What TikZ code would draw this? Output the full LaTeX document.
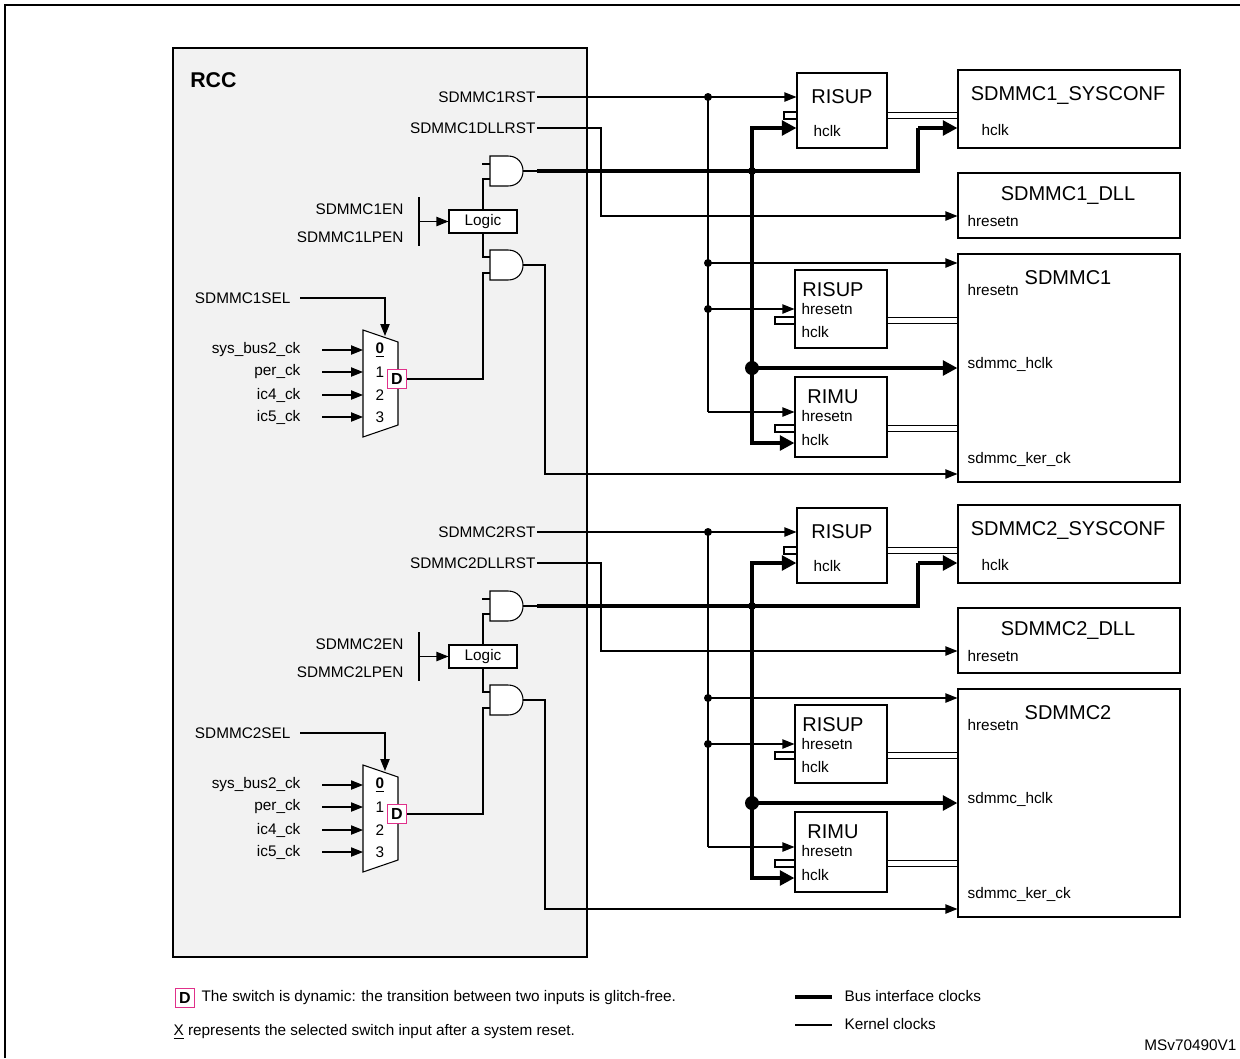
\documentclass[tikz,border=0pt]{standalone}
\usepackage{fontspec}
\setmainfont{Liberation Sans}
\usetikzlibrary{arrows.meta}
\definecolor{rccbg}{HTML}{F2F2F2}
\definecolor{dpink}{HTML}{E0308A}
\begin{document}
\begin{tikzpicture}[x=0.75pt,y=-0.75pt,
  lbl/.style={inner sep=1pt,font=\fontsize{11.5}{12}\selectfont},
  ttl/.style={inner sep=0pt,font=\fontsize{15}{16}\selectfont},
  bx/.style n args={2}{draw,line width=0.8pt,fill=white,minimum width=#1*0.75pt,minimum height=#2*0.75pt,inner sep=0pt},
  thin/.style={line width=0.8pt},
  arr/.style={thin,-{Triangle[length=9pt,width=7pt]}},
  bus/.style={line width=3pt},
  barr/.style={bus,-{Triangle[length=11pt,width=11pt]}},
  dbl/.style={double,double distance=4pt,line width=0.6pt},
  dbox/.style={draw=dpink,line width=1pt,fill=white,inner sep=1.5pt,minimum size=14pt,font=\fontsize{12}{12}\selectfont\bfseries}]
\useasboundingbox (0,0) rectangle (1240,1058);
\draw[line width=1pt] (5,1058) -- (5,5) -- (1240,5);
\node[draw,line width=1.5pt,fill=rccbg,minimum width=414*0.75pt,minimum height=909*0.75pt,inner sep=0pt] (rcc) at (380,502.5) {};
\node[inner sep=0pt,anchor=west,font=\fontsize{16}{18}\selectfont\bfseries] (rcct) at (190,80) {RCC};
\foreach \i/\o in {1/0,2/435}{
\begin{scope}[shift={(0,\o)}]
 % boxes
 \node[bx={90}{75}] (risA\i) at (842,110.5) {};
 \node[bx={222}{78}] (sys\i) at (1069,109) {};
 \node[bx={222}{65}] (dll\i) at (1069,205.5) {};
 \node[bx={222}{228}] (sd\i) at (1069,368) {};
 \node[bx={92}{78}] (risB\i) at (841,309) {};
 \node[bx={92}{80}] (rimu\i) at (841,417) {};
 \node[bx={68}{23}] (logic\i) at (483,221.5) {};
 \node[lbl] (logict\i) at (logic\i) {Logic};
 % box texts
 \node[ttl] (risAt\i) at (842,97) {RISUP};
 \node[lbl,anchor=west] (risAh\i) at (812,131) {hclk};
 \node[ttl] (syst\i) at (1068,95) {SDMMC\i\_SYSCONF};
 \node[lbl,anchor=west] (sysh\i) at (980,130) {hclk};
 \node[ttl] (dllt\i) at (1068,195) {SDMMC\i\_DLL};
 \node[lbl,anchor=west] (dllh\i) at (966,221) {hresetn};
 \node[ttl] (sdt\i) at (1068,278) {SDMMC\i};
 \node[lbl,anchor=west] (sdh\i) at (966,290) {hresetn};
 \node[lbl,anchor=west] (sdc\i) at (966,364) {sdmmc\_hclk};
 \node[lbl,anchor=west] (sdk\i) at (966,459) {sdmmc\_ker\_ck};
 \node[ttl] (risBt\i) at (833,290) {RISUP};
 \node[lbl,anchor=west] (risBr\i) at (800,309) {hresetn};
 \node[lbl,anchor=west] (risBh\i) at (800,332) {hclk};
 \node[ttl] (rimut\i) at (833,397) {RIMU};
 \node[lbl,anchor=west] (rimur\i) at (800,416) {hresetn};
 \node[lbl,anchor=west] (rimuh\i) at (800,440) {hclk};
 % stubs and double lines
 \draw[thin,fill=white] (784,112) rectangle (797,119);
 \draw[thin,fill=white] (775,317) rectangle (795,324);
 \draw[thin,fill=white] (775,425) rectangle (795,432);
 \draw[dbl] (risA\i.east|-0,115.5) -- (sys\i.west|-0,115.5);
 \draw[dbl] (risB\i.east|-0,320.5) -- (sd\i.west|-0,320.5);
 \draw[dbl] (rimu\i.east|-0,428.5) -- (sd\i.west|-0,428.5);
 % labels left
 \node[lbl,anchor=east] (rst\i) at (537,97) {SDMMC\i RST};
 \node[lbl,anchor=east] (dllrst\i) at (537,128) {SDMMC\i DLLRST};
 \node[lbl,anchor=east] (en\i) at (405,209) {SDMMC\i EN};
 \node[lbl,anchor=east] (lpen\i) at (405,237) {SDMMC\i LPEN};
 \node[lbl,anchor=east] (sel\i) at (292,298) {SDMMC\i SEL};
 % reset network
 \coordinate (j1\i) at (708,97);
 \draw[arr] (rst\i.east) -- (risA\i.west|-rst\i.east);
 \draw[thin] (j1\i) -- (708,412);
 \draw[arr] (708,412) -- (rimu\i.west|-0,412);
 \draw[arr] (708,263) -- (sd\i.west|-0,263);
 \draw[arr] (708,309) -- (risB\i.west|-0,309);
 \fill (j1\i) circle (4);
 \fill (708,263) circle (4);
 \fill (708,309) circle (4);
 \draw[arr] (dllrst\i.east) -- (601,128) -- (601,216) -- (dll\i.west|-0,216);
 % gates
 \draw[thin,fill=white] (490,156) -- (508,156) .. controls (528,156) and (528,186) .. (508,186) -- (490,186) -- cycle;
 \draw[thin,fill=white] (490,250) -- (508,250) .. controls (528,250) and (528,280) .. (508,280) -- (490,280) -- cycle;
 \coordinate (g1o\i) at (537,171);
 \coordinate (g2o\i) at (537,265);
 \draw[thin] (523,171) -- (g1o\i);
 \draw[thin] (523,265) -- (g2o\i);
 \draw[thin] (482,164) -- (490,164);
 \draw[thin] (logic\i.north) -- (483,179) -- (490,179);
 \draw[thin] (logic\i.south) -- (483,257) -- (490,257);
 \draw[thin] (419,197) -- (419,246);
 \draw[arr] (419,221.5) -- (logic\i.west);
 % bus clocks
 \draw[bus] (g1o\i) -- (918,171) -- (918,128);
 \draw[barr] (918,128) -- (sys\i.west|-0,128);
 \draw[barr] (752,171) -- (752,128) -- (risA\i.west|-0,128);
 \draw[barr] (752,171) -- (752,443) -- (rimu\i.west|-0,443);
 \draw[barr] (752,368) -- (sd\i.west|-0,368);
 \fill (752,171) circle (4);
 \fill (752,368) circle (7);
 % kernel
 \draw[arr] (g2o\i) -- (545,265) -- (545,474) -- (sd\i.west|-0,474);
 % mux
 \draw[thin,fill=white] (363,330) -- (398,342) -- (398,425) -- (363,437) -- cycle;
 \draw[arr] (sel\i.east) ++(8,0) -- (385,298) -- (385,336);
 \foreach \t/\y/\n in {sys\_bus2\_ck/350/a,per\_ck/372/b,ic4\_ck/395/c,ic5\_ck/417/d}{
   \node[lbl,anchor=east] (in\n\i) at (302,\y) {\t};
   \draw[arr] (322,\y) -- (363,\y);
 }
 \node[lbl] (m0\i) at (380,350) {\underline{\textbf{0}}};
 \node[lbl] (m1\i) at (380,372) {1};
 \node[lbl] (m2\i) at (380,395) {2};
 \node[lbl] (m3\i) at (380,417) {3};
 \node[dbox] (d\i) at (397,379) {D};
 \draw[thin] (d\i.east) -- (483,379) -- (483,273) -- (490,273);
\end{scope}
}
% legend
\node[dbox] (ld) at (185,998) {D};
\node[lbl,anchor=west] (ldt) at (200,998) {The switch is dynamic: the transition between two inputs is glitch-free.};
\node[lbl,anchor=west] (lx) at (172,1032) {\underline{X} represents the selected switch input after a system reset.};
\draw[bus] (795,997) -- (832,997);
\node[lbl,anchor=west] (lb) at (843,996) {Bus interface clocks};
\draw[thin] (795,1025) -- (832,1025);
\node[lbl,anchor=west] (lk) at (843,1024) {Kernel clocks};
\node[lbl,anchor=east] (ms) at (1238,1045) {MSv70490V1};
\end{tikzpicture}
\end{document}
